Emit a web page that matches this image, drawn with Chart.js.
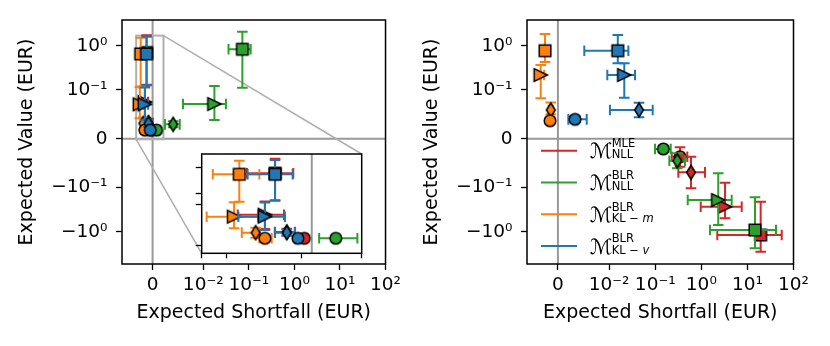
<!DOCTYPE html>
<html><head><meta charset="utf-8">
<script src="https://cdn.jsdelivr.net/npm/chart.js@4.4.0/dist/chart.umd.min.js"></script>
<style>
html,body{margin:0;padding:0;background:#fff;}
#wrap{position:relative;width:830px;height:346px;overflow:hidden;background:#fff;}
canvas{position:absolute;}
#left{left:0;top:0;}
#right{left:405px;top:0;}
#inset{left:185px;top:140px;z-index:2;}
</style></head><body>
<div id="wrap">
<canvas id="left" width="405" height="346"></canvas>
<canvas id="right" width="425" height="346"></canvas>
<canvas id="inset" width="185" height="125"></canvas>
</div>
<script>
// rows: [x, y, xlo, xhi, ylo, yhi] for square, triangle, diamond, circle
const leftMLE = [
  [-0.00119, 0.70, -0.0021, -0.0006, 0.13, 1.72],
  [-0.00152, 0.075, -0.0024, -0.0009, 0.04, 0.12],
  [-0.00081, 0.033, -0.0012, -0.00055, 0.025, 0.041],
  [-0.00024, 0.0176, -0.0003, -0.00018, 0.015, 0.020]
];
const leftBLR = [
  [0.0723, 0.83, 0.0359, 0.110, 0.111, 2.08],
  [0.0176, 0.0709, 0.006, 0.0315, 0.0382, 0.122],
  [0.00406, 0.0294, 0.00244, 0.00537, 0.0233, 0.0355],
  [0.00078, 0.0176, 0.00024, 0.00148, 0.0155, 0.0197]
];
const leftKLm = [
  [-0.00235, 0.653, -0.00321, -0.0017, 0.119, 1.52],
  [-0.00252, 0.0702, -0.00341, -0.00173, 0.0419, 0.114],
  [-0.00182, 0.0313, -0.00227, -0.00168, 0.019, 0.0434],
  [-0.00152, 0.0176, -0.0017, -0.0013, 0.014, 0.021]
];
const leftKLv = [
  [-0.00119, 0.653, -0.00208, -0.00062, 0.126, 1.59],
  [-0.00152, 0.0702, -0.00238, -0.00087, 0.0378, 0.113],
  [-0.00081, 0.0313, -0.00119, -0.00054, 0.024, 0.039],
  [-0.00045, 0.0176, -0.00055, -0.00035, 0.015, 0.020]
];
const rightMLE = [
  [19.4, -1.19, 2.22, 55.5, -2.85, -0.208],
  [3.27, -0.271, 0.97, 7.52, -0.497, -0.0899],
  [0.597, -0.0687, 0.317, 1.20, -0.1035, -0.0368],
  [0.345, -0.0368, 0.228, 0.497, -0.0572, -0.0176]
];
const rightBLR = [
  [14.6, -0.916, 1.54, 41.7, -2.38, -0.166],
  [2.33, -0.191, 0.507, 4.56, -0.705, -0.0707],
  [0.301, -0.0449, 0.202, 0.443, -0.0605, -0.0298],
  [0.150, -0.021, 0.0989, 0.217, -0.027, -0.015]
];
const rightKLm = [
  [-0.00252, 0.771, -0.0031, -0.0019, 0.427, 1.845],
  [-0.00336, 0.216, -0.004, -0.0027, 0.0825, 0.365],
  [-0.0014, 0.0587, -0.0018, -0.001, 0.05, 0.074],
  [-0.00154, 0.0368, -0.0019, -0.0012, 0.033, 0.041]
];
const rightKLv = [
  [0.0154, 0.771, 0.00515, 0.0261, 0.399, 1.75],
  [0.0213, 0.216, 0.00964, 0.0364, 0.0838, 0.399],
  [0.0445, 0.0587, 0.0104, 0.0881, 0.0437, 0.0736],
  [0.00334, 0.0396, 0.00203, 0.00562, 0.034, 0.046]
];

const xRange = [-0.00604, 100], yRange = [-5.41, 3.84];
const xTicks = [0, 0.01, 0.1, 1, 10, 100];
const xTickLabels = ['0', '10⁻²', '10⁻¹', '10⁰', '10¹', '10²'];
const yTicks = [1, 0.1, 0, -0.1, -1];
const yTickLabels = ['10⁰', '10⁻¹', '0', '−10⁻¹', '−10⁰'];

const insetXRange = [-0.00357, 0.00162], insetYRange = [-0.0189, 2.31];
const insetXTicks = [-0.00357, -0.00278, -0.00033, 0.00162];
const insetYTicks = [1, 0.2, 0.1, 0];
const insetBoxX = [-0.00324, 0.00215], insetBoxY = [-0.0012, 1.70];

const legendSup = ['MLE', 'BLR', 'BLR', 'BLR'];
const legendSub = [['NLL', ''], ['NLL', ''], ['KL − ', 'm'], ['KL − ', 'v']];
const colors = ['#d62728', '#2ca02c', '#ff7f0e', '#1f77b4'];
const shapes = ['s', '>', 'd', 'o'];

Chart.defaults.font.family = "'DejaVu Sans', sans-serif";
Chart.defaults.color = '#000';

// === symlog scale (base 10, linscale 1, like matplotlib) ===
class SymlogScale extends Chart.LinearScale {
  static id = 'symlog';
  static defaults = Chart.LinearScale.defaults;
  tf(v){ const t=this.options.linthresh, c=1/(1-0.1), a=Math.abs(v);
    return a<=t ? v/t*c : Math.sign(v)*(c+Math.log10(a/t)); }
  itf(u){ const t=this.options.linthresh, c=1/(1-0.1), a=Math.abs(u);
    return a<=c ? u/c*t : Math.sign(u)*t*Math.pow(10,a-c); }
  buildTicks(){ return this.options.tickValues.map(v=>({value:v})); }
  configure(){ super.configure(); this._s=this.tf(this.min); this._r=this.tf(this.max)-this._s; }
  getPixelForValue(v){ return this.getPixelForDecimal((this.tf(v)-this._s)/this._r); }
  getValueForPixel(p){ return this.itf(this._s+this.getDecimalForPixel(p)*this._r); }
}
Chart.register(SymlogScale);

function marker(shape, color){
  const c=document.createElement('canvas'); c.width=c.height=20;
  const g=c.getContext('2d'); g.translate(10,10);
  g.beginPath();
  if(shape==='s') g.rect(-5.8,-5.8,11.6,11.6);
  else if(shape==='>'){ g.moveTo(6.6,0); g.lineTo(-6.6,-6.4); g.lineTo(-6.6,6.4); g.closePath(); }
  else if(shape==='d'){ g.moveTo(0,-7); g.lineTo(4.4,0); g.lineTo(0,7); g.lineTo(-4.4,0); g.closePath(); }
  else g.arc(0,0,5.8,0,Math.PI*2);
  g.fillStyle=color; g.fill(); g.lineWidth=1.5; g.strokeStyle='#000'; g.stroke();
  return c;
}

const models = [
  {left:leftMLE, right:rightMLE, order:3},
  {left:leftBLR, right:rightBLR, order:2},
  {left:leftKLm, right:rightKLm, order:1},
  {left:leftKLv, right:rightKLv, order:0}
];
function datasets(panel){
  return models.map((m,k)=>({
    data: m[panel].map(r=>({x:r[0], y:r[1]})),
    err: m[panel], errColor: colors[k], order: m.order,
    pointStyle: shapes.map(s=>marker(s, colors[k])),
    pointRadius: 6, pointHoverRadius: 6
  }));
}

// === plugins ===
const whiteBg = {id:'whiteBg', beforeDraw(chart){
  const {ctx, chartArea:a} = chart; ctx.save(); ctx.fillStyle='#fff';
  ctx.fillRect(a.left,a.top,a.right-a.left,a.bottom-a.top); ctx.restore(); }};

const zeroLines = {id:'zeroLines', beforeDatasetsDraw(chart, args, opts){
  const {ctx, chartArea:a, scales:{x,y}} = chart;
  ctx.save(); ctx.strokeStyle='rgba(128,128,128,0.8)'; ctx.lineWidth=2; ctx.beginPath();
  const px=x.getPixelForValue(0); ctx.moveTo(px,a.top); ctx.lineTo(px,a.bottom);
  if(opts.h!==false){ const py=y.getPixelForValue(0); ctx.moveTo(a.left,py); ctx.lineTo(a.right,py); }
  ctx.stroke(); ctx.restore(); }};

const errorBars = {id:'errorBars', beforeDatasetDraw(chart, args){
  const ds = chart.data.datasets[args.index];
  if(!ds.err) return;
  const {ctx, chartArea:a, scales:{x,y}} = chart, cap=5.3;
  ctx.save(); ctx.beginPath(); ctx.rect(a.left,a.top,a.right-a.left,a.bottom-a.top); ctx.clip();
  ctx.strokeStyle=ds.errColor; ctx.lineWidth=2;
  ds.err.forEach(e=>{
    const px=x.getPixelForValue(e[0]), py=y.getPixelForValue(e[1]);
    const x0=x.getPixelForValue(e[2]), x1=x.getPixelForValue(e[3]);
    const y0=y.getPixelForValue(e[4]), y1=y.getPixelForValue(e[5]);
    ctx.beginPath();
    ctx.moveTo(x0,py); ctx.lineTo(x1,py);
    ctx.moveTo(x0,py-cap); ctx.lineTo(x0,py+cap);
    ctx.moveTo(x1,py-cap); ctx.lineTo(x1,py+cap);
    ctx.moveTo(px,y0); ctx.lineTo(px,y1);
    ctx.moveTo(px-cap,y0); ctx.lineTo(px+cap,y0);
    ctx.moveTo(px-cap,y1); ctx.lineTo(px+cap,y1);
    ctx.stroke();
  });
  ctx.restore(); }};

const frame = {id:'frame', afterDatasetsDraw(chart){
  const {ctx, chartArea:a} = chart; ctx.save(); ctx.strokeStyle='#000'; ctx.lineWidth=1.5;
  ctx.strokeRect(a.left,a.top,a.right-a.left,a.bottom-a.top); ctx.restore(); }};

const legendPlug = {id:'mlegend', afterDraw(chart){
  const {ctx, chartArea:a} = chart;
  ctx.save(); ctx.textAlign='left'; ctx.textBaseline='alphabetic';
  legendSup.forEach((sup,i)=>{
    const yc=a.top+130.7+i*31.8, x0=a.left+14;
    ctx.strokeStyle=colors[i]; ctx.lineWidth=2;
    ctx.beginPath(); ctx.moveTo(x0,yc); ctx.lineTo(x0+36,yc); ctx.stroke();
    ctx.fillStyle='#000';
    ctx.font="21px 'DejaVu Sans'"; ctx.fillText('ℳ', x0+49, yc+7.5);
    ctx.font="11.5px 'DejaVu Sans'"; ctx.fillText(sup, x0+70.7, yc-3.7);
    const [up,it]=legendSub[i];
    ctx.fillText(up, x0+70.7, yc+7.6);
    if(it){ const w=ctx.measureText(up).width; ctx.font="italic 11.5px 'DejaVu Sans'"; ctx.fillText(it, x0+70.7+w, yc+7.6); }
  });
  ctx.restore(); }};

function tickAxis(extra){
  return Object.assign({
    grid:{drawOnChartArea:false, tickLength:6, tickWidth:1.3, tickColor:'#000'},
    border:{display:false}
  }, extra);
}

// === inset ===
const insetChart = new Chart(document.getElementById('inset'), {
  type:'scatter',
  data:{datasets:datasets('left')},
  options:{
    responsive:false, animation:false, events:[], devicePixelRatio:1,
    layout:{padding:{left:0, top:14, right:8.3, bottom:0}},
    plugins:{legend:{display:false}, tooltip:{enabled:false}, zeroLines:{h:false}},
    scales:{
      x: tickAxis({type:'symlog', linthresh:0.01, min:insetXRange[0], max:insetXRange[1],
        tickValues:insetXTicks, ticks:{display:false},
        grid:{drawOnChartArea:false, tickLength:5, tickWidth:1.3, tickColor:'#000'},
        afterFit:s=>{s.height=11.7;}}),
      y: tickAxis({type:'symlog', linthresh:0.1, min:insetYRange[0], max:insetYRange[1],
        tickValues:insetYTicks, ticks:{display:false},
        afterFit:s=>{s.width=16.7;}})
    }
  },
  plugins:[whiteBg, zeroLines, errorBars, frame]
});

const insetMark = {id:'insetMark', beforeDatasetsDraw(chart){
  const {ctx, scales:{x,y}} = chart, ia = insetChart.chartArea, ox=185, oy=140;
  const l=x.getPixelForValue(insetBoxX[0]), r=x.getPixelForValue(insetBoxX[1]);
  const t=y.getPixelForValue(insetBoxY[1]), b=y.getPixelForValue(insetBoxY[0]);
  ctx.save(); ctx.strokeStyle='#b0b0b0'; ctx.lineWidth=2;
  ctx.strokeRect(l,t,r-l,b-t);
  ctx.lineWidth=1.6; ctx.beginPath();
  ctx.moveTo(r,t); ctx.lineTo(ia.right+ox, ia.top+oy);
  ctx.moveTo(l,b); ctx.lineTo(ia.left+ox, ia.bottom+oy);
  ctx.stroke(); ctx.restore(); }};

// === main panels ===
function mainChart(id, panel, padRight, extra){
  return new Chart(document.getElementById(id), {
    type:'scatter',
    data:{datasets:datasets(panel)},
    options:{
      responsive:false, animation:false, events:[], devicePixelRatio:1,
      layout:{padding:{left:0, top:20, right:padRight, bottom:0}},
      plugins:{legend:{display:false}, tooltip:{enabled:false}},
      scales:{
        x: tickAxis({type:'symlog', linthresh:0.01, min:xRange[0], max:xRange[1], tickValues:xTicks,
          ticks:{callback:(v,i)=>xTickLabels[i], autoSkip:false, maxRotation:0, font:{size:18.5}, padding:4},
          title:{display:true, text:'Expected Shortfall (EUR)', font:{size:19}, padding:{top:0, bottom:21.6}},
          afterFit:s=>{s.height=82;}}),
        y: tickAxis({type:'symlog', linthresh:0.1, min:yRange[0], max:yRange[1], tickValues:yTicks,
          ticks:{callback:(v,i)=>yTickLabels[i], autoSkip:false, font:{size:18.5}, padding:8.5},
          title:{display:true, text:'Expected Value (EUR)', font:{size:19}, padding:{top:16.1, bottom:0}},
          afterFit:s=>{s.width=122;}})
      }
    },
    plugins:[zeroLines, errorBars, frame].concat(extra)
  });
}

mainChart('left', 'left', 16.7, [insetMark]);
mainChart('right', 'right', 36.5, [legendPlug]);
</script></body></html>
